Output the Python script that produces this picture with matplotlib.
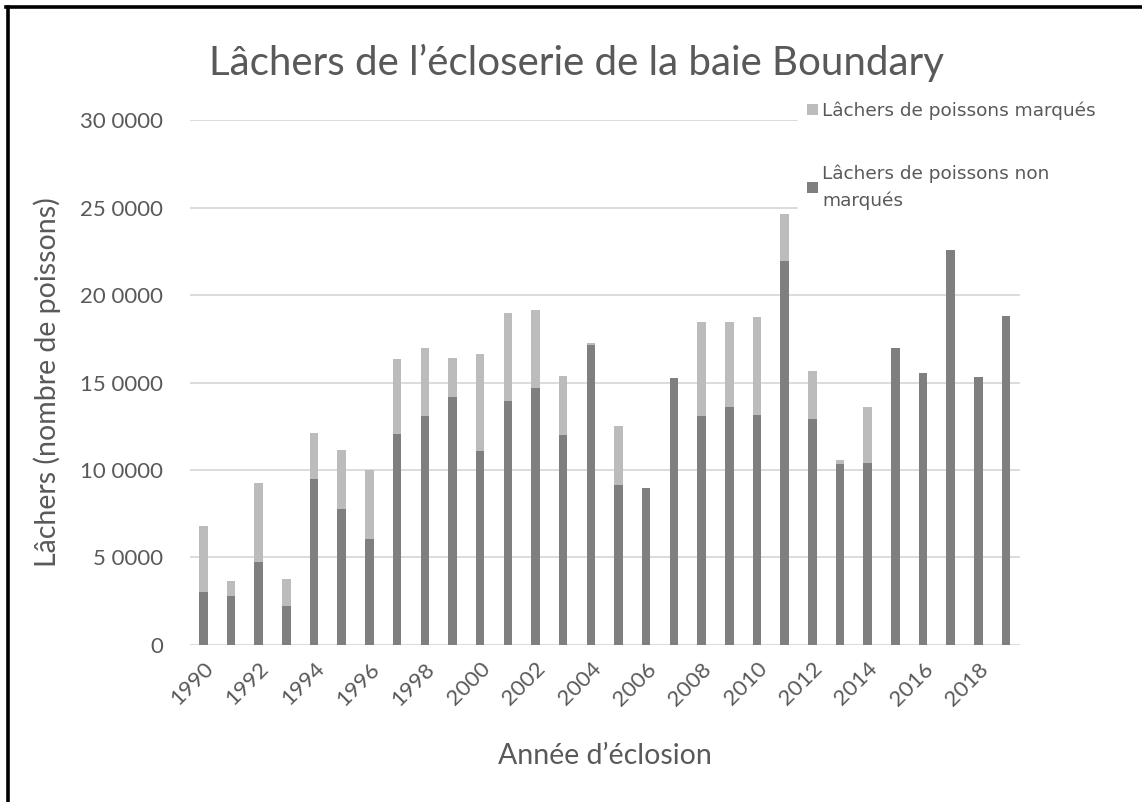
import matplotlib
matplotlib.use("Agg")
import matplotlib.pyplot as plt
from matplotlib.lines import Line2D
import numpy as np

# Données
annees = list(range(1990, 2020))
non_marques = [30400, 28200, 47300, 22300, 94700, 77700, 60700, 120600, 130800, 141600,
               110800, 139700, 146900, 120000, 171300, 91500, 89600, 152700, 130800, 136100,
               131600, 219300, 129300, 103400, 104000, 169900, 155200, 225900, 152900, 188100]
totaux = [68200, 36300, 92400, 37800, 121400, 111700, 100000, 163500, 169900, 164300,
          166500, 189800, 191700, 153700, 172600, 125300, 89600, 152700, 184500, 184900,
          187300, 246500, 156500, 105900, 136100, 169900, 155200, 225900, 152900, 188100]
marques = [t - n for t, n in zip(totaux, non_marques)]
y_ticks = [0, 50000, 100000, 150000, 200000, 250000, 300000]
y_labels = ["0", "5 0000", "10 0000", "15 0000", "20 0000", "25 0000", "30 0000"]

txt = "#595959"
fig = plt.figure(figsize=(11.42, 8.02), dpi=100)
ax = fig.add_axes([0.166, 0.196, 0.727, 0.654])

x = np.arange(len(annees))
ax.bar(x, non_marques, width=0.31, color="#7f7f7f", zorder=3,
       label="Lâchers de poissons non\nmarqués")
ax.bar(x, marques, bottom=non_marques, width=0.31, color="#bcbcbc", zorder=3,
       label="Lâchers de poissons marqués")

ax.set_xlim(-0.5, len(annees) - 0.5)
ax.set_ylim(0, 300000)
ax.set_yticks(y_ticks)
ax.set_yticklabels(y_labels, fontfamily="Lato", fontsize=16, color=txt)
ax.set_xticks(x[::2])
ax.set_xticklabels([str(a) for a in annees[::2]], rotation=45, ha="right",
                   rotation_mode="anchor", fontfamily="Lato", fontsize=16, color=txt)
ax.tick_params(axis="y", length=0, pad=19)
ax.tick_params(axis="x", length=0, pad=10)
ax.grid(axis="y", color="#d9d9d9", lw=1.3, zorder=0)
for s in ax.spines.values():
    s.set_visible(False)

ax.set_xlabel("Année d’éclosion", fontfamily="Lato", fontsize=20.5, color=txt, labelpad=24)
ax.set_ylabel("Lâchers (nombre de poissons)", fontfamily="Lato", fontsize=20.5, color=txt, labelpad=14)
fig.text(0.505, 0.922, "Lâchers de l’écloserie de la baie Boundary", ha="center", va="center",
         fontfamily="Lato", fontsize=29, color=txt)

h, l = ax.get_legend_handles_labels()
leg = ax.legend(h[::-1], l[::-1], loc="upper left", bbox_to_anchor=(0.733, 1.053),
                frameon=True, facecolor="white", edgecolor="white", framealpha=1,
                fontsize=13.3, labelspacing=2.4, handlelength=0.55, handleheight=0.55,
                handletextpad=0.25, borderpad=0.5, borderaxespad=0, fancybox=False)
for t in leg.get_texts():
    t.set_color(txt)
    t.set_linespacing(1.55)
leg.set_zorder(5)

fig.add_artist(Line2D([0.0066, 0.0066], [0, 0.9915], color="black", lw=2.6, transform=fig.transFigure))
fig.add_artist(Line2D([0.0055, 1], [0.9915, 0.9915], color="black", lw=2.6, transform=fig.transFigure))

fig.savefig("out.png", dpi=100)
